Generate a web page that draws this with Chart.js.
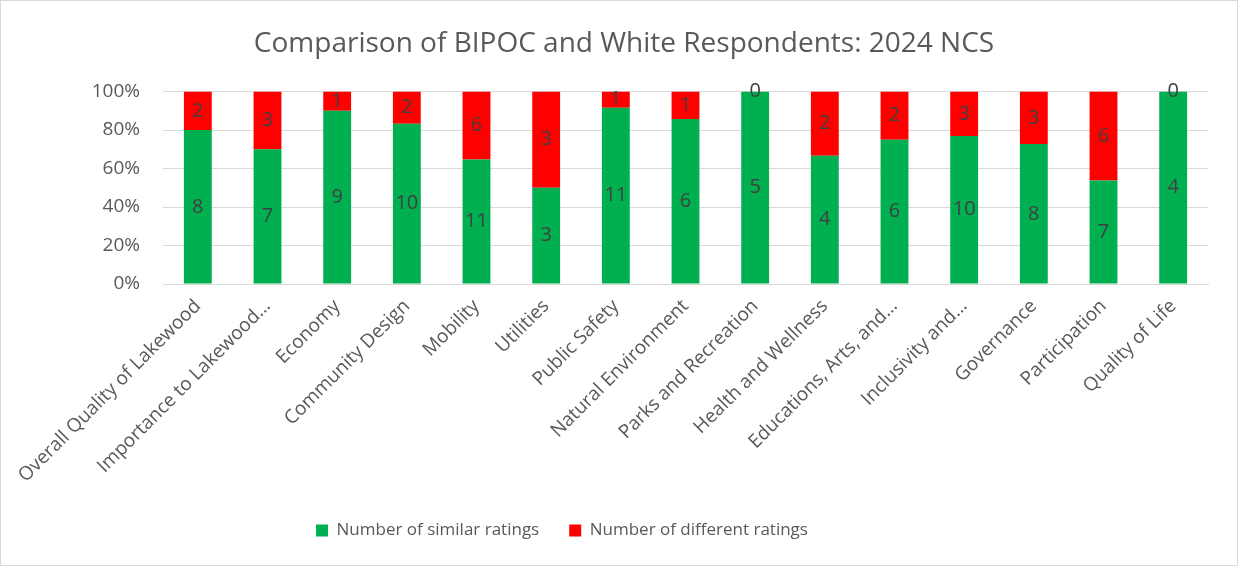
<!DOCTYPE html>
<html>
<head>
<meta charset="utf-8">
<script src="https://cdn.jsdelivr.net/npm/chart.js@4/dist/chart.umd.min.js"></script>
<style>
  body { margin: 0; background: #fff; }
  canvas { display: block; }
</style>
</head>
<body>
<canvas id="canvas" width="1238" height="566"></canvas>
<script>
const categories = [
  "Overall Quality of Lakewood", "Importance to Lakewood…", "Economy",
  "Community Design", "Mobility", "Utilities", "Public Safety",
  "Natural Environment", "Parks and Recreation", "Health and Wellness",
  "Educations, Arts, and…", "Inclusivity and…", "Governance",
  "Participation", "Quality of Life"
];
const similar = [8, 7, 9, 10, 11, 3, 11, 6, 5, 4, 6, 10, 8, 7, 4];
const different = [2, 3, 1, 2, 6, 3, 1, 1, 0, 2, 2, 3, 3, 6, 0];
const yTicks = [0, 20, 40, 60, 80, 100];

// 100% stacked: share of each row's total
const totals = similar.map((s, i) => s + different[i]);
const pct = (arr) => arr.map((v, i) => (v / totals[i]) * 100);

const FONT = "'Open Sans', sans-serif";

// white background + thin frame
const frame = {
  id: "frame",
  beforeDraw(chart) {
    const c = chart.ctx;
    c.save();
    c.fillStyle = "#fff";
    c.fillRect(0, 0, chart.width, chart.height);
    c.strokeStyle = "#d9d9d9";
    c.lineWidth = 1;
    c.strokeRect(0.5, 0.5, chart.width - 1, chart.height - 1);
    c.restore();
  },
};

// legend sits a bit left of center in the original
const legendShift = {
  id: "legendShift",
  afterLayout(chart) {
    chart.legend.left -= 62;
    chart.legend.right -= 62;
  },
};

// counts written in the middle of each segment
const counts = {
  id: "counts",
  afterDatasetsDraw(chart) {
    const c = chart.ctx;
    c.save();
    c.font = "20px " + FONT;
    c.fillStyle = "#404040";
    c.textAlign = "center";
    c.textBaseline = "middle";
    chart.data.datasets.forEach((ds, di) => {
      const meta = chart.getDatasetMeta(di);
      meta.data.forEach((bar, i) => {
        const y = (bar.y + bar.base) / 2;
        c.fillText(String(ds.counts[i]), bar.x, y);
      });
    });
    c.restore();
  },
};

new Chart(document.getElementById("canvas"), {
  type: "bar",
  data: {
    labels: categories,
    datasets: [
      {
        label: "Number of similar ratings",
        data: pct(similar),
        counts: similar,
        backgroundColor: "#00b050",
      },
      {
        label: "Number of different ratings",
        data: pct(different),
        counts: different,
        backgroundColor: "#ff0000",
      },
    ],
  },
  options: {
    responsive: false,
    animation: false,
    barPercentage: 0.4,
    categoryPercentage: 1,
    layout: { padding: { left: 40, right: 30, top: 0, bottom: 17 } },
    plugins: {
      title: {
        display: true,
        text: "Comparison of BIPOC and White Respondents: 2024 NCS",
        color: "#595959",
        font: { family: FONT, size: 28, weight: "normal" },
        padding: { top: 27, bottom: 31 },
      },
      legend: {
        position: "bottom",
        labels: {
          color: "#595959",
          font: { family: FONT, size: 17 },
          boxWidth: 12,
          boxHeight: 12,
          padding: 30,
        },
      },
      tooltip: { enabled: false },
    },
    scales: {
      x: {
        stacked: true,
        grid: { display: false },
        border: { color: "#d9d9d9" },
        afterFit: (scale) => {
          scale.height += 2;
        },
        ticks: {
          color: "#595959",
          font: { family: FONT, size: 19 },
          minRotation: 45,
          maxRotation: 45,
          autoSkip: false,
        },
      },
      y: {
        stacked: true,
        min: 0,
        max: 100,
        afterBuildTicks: (scale) => {
          scale.ticks = yTicks.map((v) => ({ value: v }));
        },
        afterFit: (scale) => {
          scale.width = 123;
        },
        grid: { color: "#d9d9d9", drawTicks: false },
        border: { display: false },
        ticks: {
          color: "#595959",
          font: { family: FONT, size: 19 },
          padding: 23,
          callback: (v) => v + "%",
        },
      },
    },
  },
  plugins: [frame, legendShift, counts],
});
</script>
</body>
</html>
